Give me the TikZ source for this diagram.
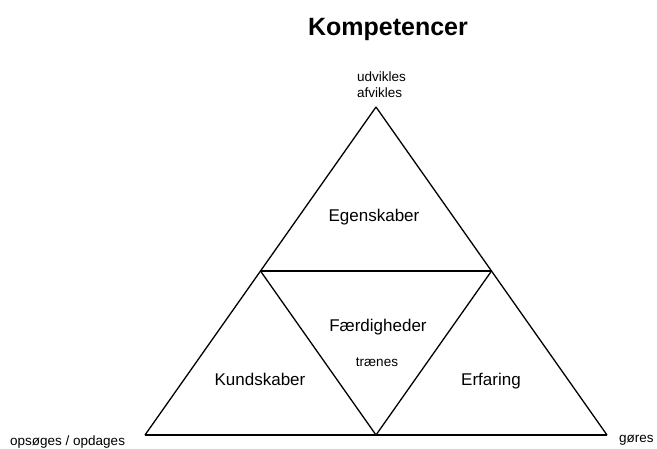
\documentclass[tikz,border=0pt]{standalone}
\usepackage{fontspec}
\setmainfont{Liberation Sans}
\begin{document}
\begin{tikzpicture}[x=1pt,y=-1pt,
    txt/.style={inner sep=0pt,anchor=base},
    big/.style={font=\fontsize{17}{20}\selectfont},
    small/.style={font=\fontsize{13.5}{16}\selectfont}]
  \useasboundingbox (0,0) rectangle (657,448);
  \path
    (376,107) coordinate (top)
    (145,435) coordinate (left)
    (607,435) coordinate (right)
    (260.5,271) coordinate (midl)
    (491.5,271) coordinate (midr)
    (376,435) coordinate (midb);
  \node[txt,font=\bfseries\fontsize{25}{30}\selectfont] (title) at (388,35) {Kompetencer};
  \node[txt,big] (egen) at (374,221) {Egenskaber};
  \node[txt,big] (kund) at (260,385) {Kundskaber};
  \node[txt,big] (erf) at (491,385) {Erfaring};
  \node[txt,big] (faerd) at (378,331) {Færdigheder};
  \node[txt,small] (traen) at (377,366) {trænes};
  \node[txt,small,anchor=base west] (udv) at (357,81) {udvikles};
  \node[txt,small,anchor=base west] (afv) at (357,97) {afvikles};
  \node[txt,small,anchor=base west] (ops) at (10,445) {opsøges / opdages};
  \node[txt,small,anchor=base west] (goer) at (619,442) {gøres};
  \begin{scope}[line width=1.3pt,line join=miter]
    \draw (top) to (left);
    \draw (left) to (right);
    \draw (right) to (top);
    \draw (midl) to (midr);
    \draw (midl) to (midb);
    \draw (midr) to (midb);
  \end{scope}
\end{tikzpicture}
\end{document}
